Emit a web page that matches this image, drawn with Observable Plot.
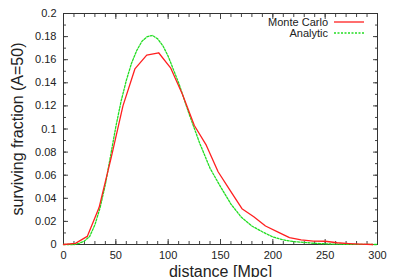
<!DOCTYPE html>
<html><head><meta charset="utf-8">
<script src="https://cdn.jsdelivr.net/npm/d3@7"></script>
<script src="https://cdn.jsdelivr.net/npm/@observablehq/plot@0.6"></script>
<style>body{margin:0;background:#fff}svg{font-family:"Liberation Sans",Arial,sans-serif}</style>
</head><body><div id="c"></div>
<script>
const mcDist = [0,11.4,22.7,34,45.5,56.8,68.2,79.5,90.9,102.3,113.6,125,136.4,147.7,159,170.5,181.8,193,204.5,215.9,227,238.6,250,261.4,272.7,284,295.5];
const mcFrac = [0,0.001,0.007,0.032,0.075,0.12,0.152,0.164,0.166,0.153,0.13,0.103,0.086,0.063,0.047,0.031,0.024,0.016,0.011,0.006,0.004,0.003,0.0028,0.0015,0.0008,0.0003,0];
const anDist = [0,10,15,20,25,30,35,40,45,50,55,60,65,70,75,80,85,90,95,100,110,120,130,140,150,160,170,180,190,200,210,220,230,240,250,260,280,300];
const anFrac = [0,0,0.001,0.003,0.007,0.017,0.032,0.052,0.077,0.102,0.124,0.142,0.157,0.168,0.176,0.18,0.181,0.178,0.172,0.163,0.14,0.113,0.088,0.066,0.05,0.035,0.0235,0.016,0.011,0.0065,0.004,0.0025,0.0018,0.001,0.0006,0.0003,0.0001,0];
const xMajor = [0,50,100,150,200,250,300];
const xMinor = d3.range(0,301,10);
const yMajor = [0,0.02,0.04,0.06,0.08,0.1,0.12,0.14,0.16,0.18,0.2];
const yMinor = d3.range(0,0.2001,0.01);
const seriesNames = ["Monte Carlo","Analytic"];
const seriesColors = ["#ff2020","#22dd22"];
const xLabel = "distance [Mpc]";
const yLabel = "surviving fraction (A=50)";

const mc = mcDist.map((d,i)=>({d, f: mcFrac[i]}));
const an = anDist.map((d,i)=>({d, f: anFrac[i]}));

const legend = (index, scales, values, dim) => {
  const g = d3.create("svg:g");
  const x1 = dim.width - dim.marginRight - 43, x2 = dim.width - dim.marginRight - 13;
  seriesNames.forEach((name, i) => {
    const y = dim.marginTop + 9 + i*11;
    g.append("text").attr("x", x1 - 6).attr("y", y).attr("dy","0.35em")
      .attr("text-anchor","end").attr("font-size",11).attr("fill","#222").text(name);
    g.append("line").attr("x1",x1).attr("x2",x2).attr("y1",y).attr("y2",y)
      .attr("stroke",seriesColors[i]).attr("stroke-width",1.3)
      .attr("stroke-dasharray", i===1 ? "2,1.5" : null);
  });
  return g.node();
};

const chart = Plot.plot({
  width: 396, height: 277,
  marginLeft: 63, marginRight: 19, marginTop: 13, marginBottom: 33,
  style: {fontSize: "11px", color: "#222", background: "#fff"},
  x: {domain: [0,300]},
  y: {domain: [0,0.2]},
  marks: [
    Plot.axisX({anchor:"bottom", ticks: xMinor, tickSize: -3, text: null, label: null, stroke:"#444"}),
    Plot.axisX({anchor:"top", ticks: xMinor, tickSize: -3, text: null, label: null, stroke:"#444"}),
    Plot.axisX({anchor:"bottom", ticks: xMajor, tickSize: -5, text: null, label: null, stroke:"#444"}),
    Plot.axisX({anchor:"top", ticks: xMajor, tickSize: -5, text: null, label: null, stroke:"#444"}),
    Plot.axisX({anchor:"bottom", ticks: xMajor, tickSize: 0, tickPadding: 7, tickFormat: d3.format("d"),
      label: xLabel, labelAnchor: "center", labelArrow: "none", labelOffset: 32}),
    Plot.axisY({anchor:"left", ticks: yMinor, tickSize: -3, text: null, label: null, stroke:"#444"}),
    Plot.axisY({anchor:"right", ticks: yMinor, tickSize: -3, text: null, label: null, stroke:"#444"}),
    Plot.axisY({anchor:"left", ticks: yMajor, tickSize: -5, text: null, label: null, stroke:"#444"}),
    Plot.axisY({anchor:"right", ticks: yMajor, tickSize: -5, text: null, label: null, stroke:"#444"}),
    Plot.axisY({anchor:"left", ticks: yMajor, tickSize: 0, tickPadding: 7, tickFormat: d => d===0 ? "0" : String(+d.toFixed(2)),
      label: yLabel, labelAnchor: "center", labelArrow: "none", labelOffset: 52}),
    Plot.frame({stroke:"#333"}),
    Plot.line(an, {x:"d", y:"f", stroke: seriesColors[1], strokeWidth: 1.3, strokeDasharray: "2,1.5"}),
    Plot.line(mc, {x:"d", y:"f", stroke: seriesColors[0], strokeWidth: 1.3}),
    legend
  ]
});
document.getElementById("c").append(chart);
d3.select(chart).selectAll("text").filter(function(){ return this.textContent === xLabel || this.textContent === yLabel; })
  .attr("font-size", 16).style("font-size", "16px");
</script></body></html>
